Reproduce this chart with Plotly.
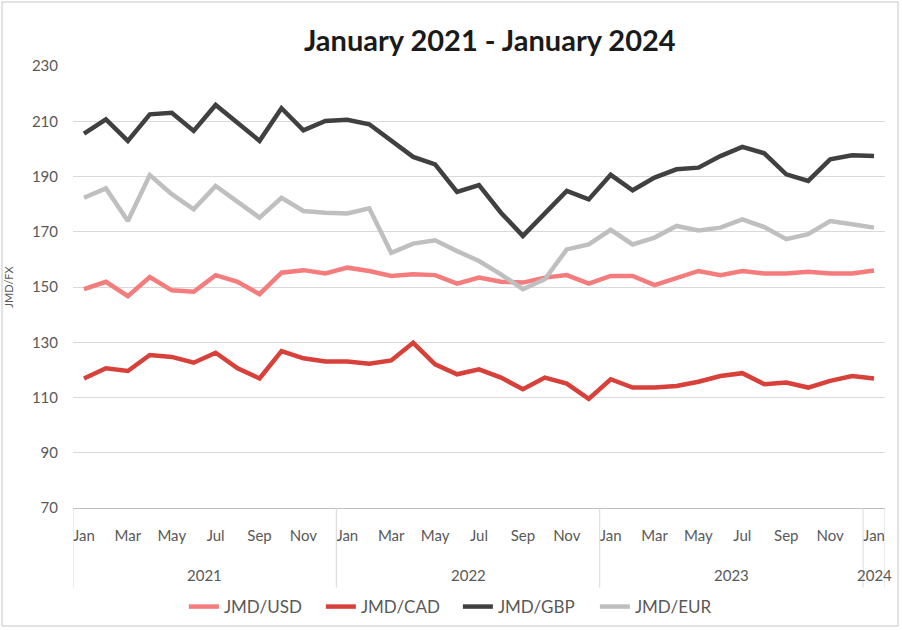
import plotly.graph_objects as go

months = ["Jan", "Feb", "Mar", "Apr", "May", "Jun", "Jul", "Aug", "Sep", "Oct", "Nov", "Dec"]
years = ["2021", "2022", "2023", "2024"]
month_labels = months * 3 + ["Jan"]

jmd_usd = [149.2, 151.9, 146.7, 153.6, 148.8, 148.3, 154.3, 151.9, 147.4, 155.2, 156.1, 154.9,
           157.0, 155.8, 154.0, 154.6, 154.3, 151.2, 153.4, 151.9, 151.6, 153.4, 154.3, 151.2,
           154.0, 154.0, 150.7, 153.4, 155.8, 154.3, 155.8, 154.9, 154.9, 155.5, 154.9, 154.9,
           156.0]
jmd_cad = [116.9, 120.6, 119.6, 125.4, 124.7, 122.6, 126.2, 120.6, 116.9, 126.8, 124.2, 123.0,
           123.0, 122.2, 123.4, 129.8, 122.0, 118.4, 120.2, 117.2, 113.0, 117.2, 115.0, 109.5,
           116.6, 113.6, 113.6, 114.2, 115.7, 117.8, 118.8, 114.8, 115.4, 113.6, 116.0, 117.8,
           116.9]
jmd_gbp = [205.5, 210.7, 202.9, 212.5, 213.1, 206.5, 215.9, 209.5, 202.9, 214.7, 206.7, 210.1,
           210.5, 208.9, 202.9, 197.1, 194.4, 184.4, 186.9, 176.9, 168.5, 176.9, 184.8, 181.7,
           190.6, 185.0, 189.6, 192.6, 193.2, 197.4, 200.7, 198.4, 190.8, 188.4, 196.2, 197.7,
           197.4]
jmd_eur = [182.3, 185.7, 173.9, 190.5, 183.6, 178.1, 186.6, 181.1, 175.1, 182.3, 177.5, 176.9,
           176.6, 178.5, 162.4, 165.7, 166.9, 163.0, 159.4, 154.6, 149.2, 152.8, 163.6, 165.4,
           170.7, 165.4, 167.9, 172.1, 170.5, 171.5, 174.5, 171.7, 167.3, 169.1, 173.9, 172.7,
           171.5]

series = [
    ("JMD/USD", jmd_usd, "#F47C7C"),
    ("JMD/CAD", jmd_cad, "#D8403A"),
    ("JMD/GBP", jmd_gbp, "#404040"),
    ("JMD/EUR", jmd_eur, "#BFBFBF"),
]

x = list(range(len(month_labels)))
font_family = "Lato, 'Open Sans', sans-serif"
tick_color = "#595959"

fig = go.Figure()
for name, vals, color in series:
    fig.add_trace(go.Scatter(
        x=x, y=vals, name=name, mode="lines",
        line=dict(color=color, width=4.5),
    ))

tickvals = x[::2]
ticktext = month_labels[::2]

fig.update_layout(
    width=902, height=631,
    paper_bgcolor="white", plot_bgcolor="white",
    margin=dict(l=73, r=17, t=66, b=123, autoexpand=False),
    title=dict(text="<b>January 2021 - January 2024</b>", x=0.543, xanchor="center",
               y=0.935, yanchor="middle",
               font=dict(family=font_family, size=29, color="#1a1a1a")),
    font=dict(family=font_family, color=tick_color),
    showlegend=True,
    legend=dict(orientation="h", x=0.474, xanchor="center", y=-0.224, yanchor="middle",
                font=dict(size=17, color=tick_color), itemwidth=30,
                entrywidth=92, entrywidthmode="pixels",
                tracegroupgap=0),
    xaxis=dict(range=[-0.5, 36.5], tickmode="array", tickvals=tickvals, ticktext=ticktext,
               showgrid=False, zeroline=False, showline=True, linecolor="#BFBFBF",
               linewidth=1, ticks="", tickfont=dict(size=15, color=tick_color),
               ticklabelstandoff=14, automargin=False, fixedrange=True),
    yaxis=dict(range=[70, 230], dtick=20, tick0=70, showgrid=True, gridcolor="#D9D9D9",
               gridwidth=1, zeroline=False, showline=False, ticks="",
               tickfont=dict(size=15, color=tick_color), ticklabelstandoff=14,
               automargin=False,
               title=dict(text="JMD/FX", font=dict(size=11, color=tick_color), standoff=16)),
)

# year group separators under the axis
for xv in [-0.5, 11.5, 23.5, 35.5, 36.5]:
    fig.add_shape(type="line", xref="x", yref="paper", x0=xv, x1=xv, y0=0, y1=-0.18,
                  line=dict(color="#D9D9D9", width=1))

# year labels
year_centers = [5.5, 17.5, 29.5, 36.0]
for yr, xc in zip(years, year_centers):
    fig.add_annotation(x=xc, y=-0.152, xref="x", yref="paper", text=yr, showarrow=False,
                       font=dict(size=15, color=tick_color), yanchor="middle")

# outer chart border
fig.add_shape(type="rect", xref="paper", yref="paper", x0=-0.0874, x1=1.016, y0=-0.267, y1=1.145,
              line=dict(color="#D9D9D9", width=1.5), layer="below")

fig.write_html("out.html", config={"displayModeBar": False},
               post_script="document.body.style.margin='0px';")
